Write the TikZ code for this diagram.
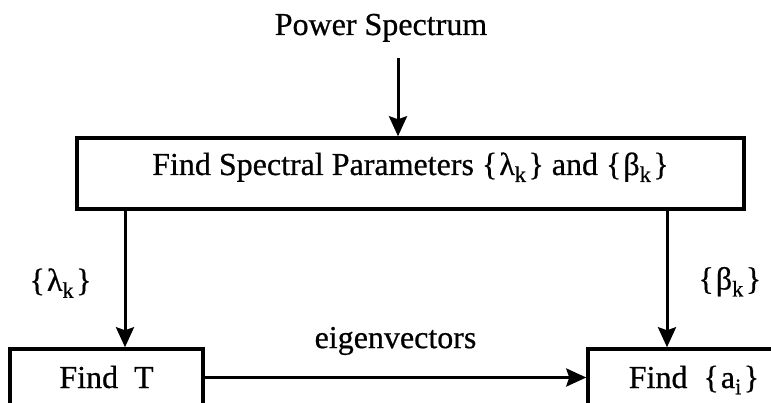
\documentclass[tikz,border=0pt]{standalone}
\usepackage{fontspec}
\setmainfont{Liberation Serif}[FakeBold=0.6]
\usetikzlibrary{arrows.meta}
\newcommand{\setof}[1]{\{\kern2pt#1\kern2pt\}}
\begin{document}
\begin{tikzpicture}[x=1pt,y=-1pt,
  every node/.style={font=\fontsize{32pt}{38pt}\selectfont, inner sep=3pt},
  boxed/.style={draw, line width=3.5pt},
  arr/.style={line width=3pt, -{Stealth[length=20pt,width=18pt,inset=3pt]}}]
\useasboundingbox (0,0) rectangle (771,403);
\clip (0,0) rectangle (771,403);
\node (ps) [anchor=base] at (381,35) {Power Spectrum};
\node (main) [boxed, minimum width=667pt, minimum height=71pt, text height=23pt, text depth=20pt]
  at (410.5,173.5) {Find Spectral Parameters \setof{λ\textsubscript{k}} and \setof{β\textsubscript{k}}};
\node (ft) [boxed, minimum width=193pt, minimum height=57pt, text height=27pt, text depth=6pt]
  at (106.5,377.5) {Find~~T\hspace{14pt}};
\node (fa) [boxed, minimum width=212pt, minimum height=57pt, text height=27pt, text depth=6pt]
  at (694,377.5) {Find~~\setof{a\textsubscript{i}}\hspace{43pt}};
\coordinate (psa) at (398,58);
\coordinate (lx) at (125,0);
\coordinate (rx) at (667,0);
\draw[arr] (psa) -- (psa |- main.north);
\draw[arr] (lx |- main.south) -- node[left=29pt, pos=0.53] {\setof{λ\textsubscript{k}}} (lx |- ft.north);
\draw[arr] (rx |- main.south) -- node[right=27pt, pos=0.52] {\setof{β\textsubscript{k}}} (rx |- fa.north);
\draw[arr] (ft.east) -- node[above=18pt] {eigenvectors} (fa.west);
\end{tikzpicture}
\end{document}
